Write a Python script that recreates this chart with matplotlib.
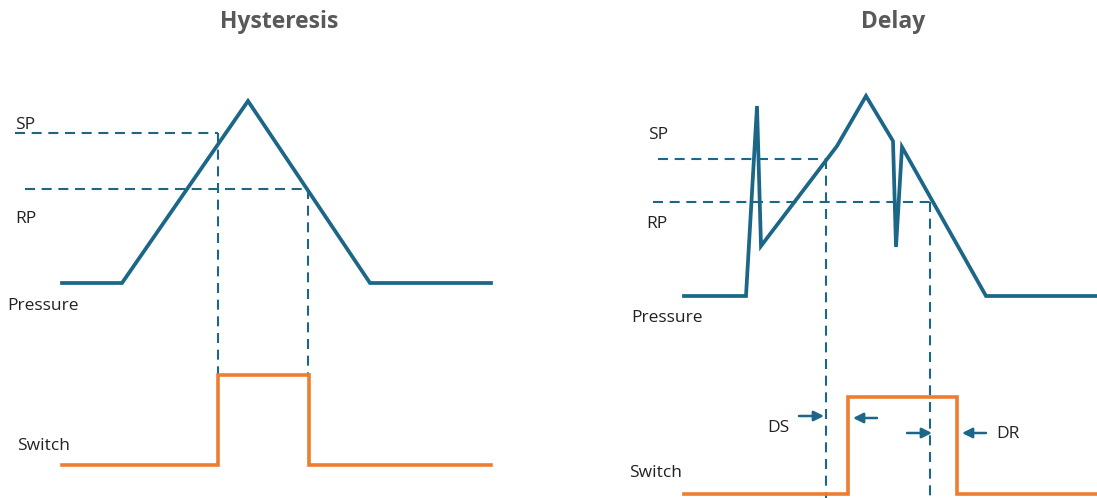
import matplotlib
matplotlib.use("Agg")
import matplotlib.pyplot as plt

# ---- diagram data (canvas units, y grows downward) ----
hyst_pressure_x = [62, 122, 248, 370, 491]
hyst_pressure_y = [283, 283, 101, 283, 283]
hyst_switch_x = [62, 218, 218, 309, 309, 491]
hyst_switch_y = [465, 465, 375, 375, 465, 465]
hyst_sp_level = 133
hyst_rp_level = 189
hyst_sp_x = [15, 218]
hyst_rp_x = [25, 308]
hyst_switch_on = 218
hyst_switch_off = 308
hyst_switch_top = 375

delay_pressure_x = [684, 746, 757, 761, 837, 866, 893, 896, 902, 986, 1097]
delay_pressure_y = [296, 296, 106, 246, 146, 96, 141, 247, 147, 296, 296]
delay_switch_x = [684, 848, 848, 957, 957, 1097]
delay_switch_y = [494, 494, 397, 397, 494, 494]
delay_sp_level = 159
delay_rp_level = 202
delay_sp_x = [658, 826]
delay_rp_x = [653, 930]
delay_sp_cross = 826
delay_rp_cross = 930

# arrows: (tail_x, head_x, y)
ds_arrows = [(799, 824, 416), (877, 853, 418)]
dr_arrows = [(907, 932, 433), (986, 962, 433)]

titles = ["Hysteresis", "Delay"]

BLUE = "#1c6688"
ORANGE = "#ed7d31"
TXT = "#222222"
TITLE_C = "#595959"
FONT = ["Open Sans", "DejaVu Sans"]

fig = plt.figure(figsize=(10.97, 4.98), dpi=100)
ax = fig.add_axes([0, 0, 1, 1])
ax.set_xlim(0, 1097)
ax.set_ylim(498, 0)
ax.axis("off")

dash = dict(color=BLUE, lw=1.5, linestyle=(0, (4.8, 3.2)))

# ---- Hysteresis ----
ax.plot(hyst_sp_x, [hyst_sp_level] * 2, **dash)
ax.plot(hyst_rp_x, [hyst_rp_level] * 2, **dash)
ax.plot([hyst_switch_on] * 2, [hyst_sp_level, hyst_switch_top], **dash)
ax.plot([hyst_switch_off] * 2, [hyst_rp_level, hyst_switch_top], **dash)
ax.plot(hyst_pressure_x, hyst_pressure_y, color=BLUE, lw=2.7, solid_joinstyle="miter")
ax.plot(hyst_switch_x, hyst_switch_y, color=ORANGE, lw=2.6, solid_joinstyle="miter")

# ---- Delay ----
ax.plot(delay_sp_x, [delay_sp_level] * 2, **dash)
ax.plot(delay_rp_x, [delay_rp_level] * 2, **dash)
ax.plot([delay_sp_cross] * 2, [delay_sp_level, 498], **dash)
ax.plot([delay_rp_cross] * 2, [delay_rp_level, 498], **dash)
ax.plot(delay_pressure_x, delay_pressure_y, color=BLUE, lw=2.7, solid_joinstyle="miter")
ax.plot(delay_switch_x, delay_switch_y, color=ORANGE, lw=2.6, solid_joinstyle="miter")

for tx, hx, y in ds_arrows + dr_arrows:
    ax.annotate("", xy=(hx, y), xytext=(tx, y),
                arrowprops=dict(arrowstyle="-|>,head_length=0.6,head_width=0.3",
                                color=BLUE, lw=1.8, shrinkA=0, shrinkB=0))

# ---- text ----
tkw = dict(family=FONT, fontsize=12.5, color=TXT)
ax.text(279, 28, titles[0], ha="center", va="baseline", fontsize=16.5,
        fontweight="bold", color=TITLE_C, family=FONT)
ax.text(893, 28, titles[1], ha="center", va="baseline", fontsize=16.5,
        fontweight="bold", color=TITLE_C, family=FONT)

ax.text(15, 129, "SP", va="baseline", **tkw)
ax.text(15, 223, "RP", va="baseline", **tkw)
ax.text(7, 310, "Pressure", va="baseline", **tkw)
ax.text(17, 450, "Switch", va="baseline", **tkw)

ax.text(648, 139, "SP", va="baseline", **tkw)
ax.text(646, 228, "RP", va="baseline", **tkw)
ax.text(631, 322, "Pressure", va="baseline", **tkw)
ax.text(629, 477, "Switch", va="baseline", **tkw)
ax.text(767, 432, "DS", va="baseline", **tkw)
ax.text(996, 438, "DR", va="baseline", **tkw)

fig.savefig("out.png", dpi=100)
